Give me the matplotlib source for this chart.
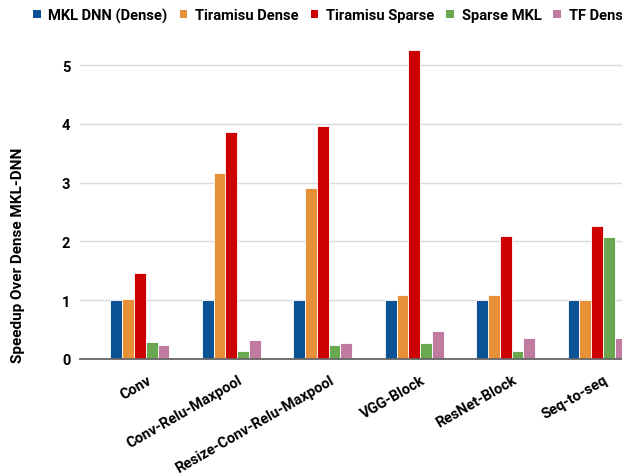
import numpy as np
import matplotlib.pyplot as plt
from matplotlib.transforms import ScaledTranslation
from matplotlib.patches import Patch

plt.rcParams['font.family'] = ['Roboto', 'DejaVu Sans']
plt.rcParams['font.weight'] = 'bold'

# data
categories = ['Conv', 'Conv-Relu-Maxpool', 'Resize-Conv-Relu-Maxpool',
              'VGG-Block', 'ResNet-Block', 'Seq-to-seq']
series = ['MKL DNN (Dense)', 'Tiramisu Dense', 'Tiramisu Sparse', 'Sparse MKL', 'TF Dense']
mkl_dense = [1.0, 1.0, 1.0, 1.0, 1.0, 1.0]
tiramisu_dense = [1.02, 3.16, 2.90, 1.09, 1.09, 1.00]
tiramisu_sparse = [1.47, 3.86, 3.97, 5.25, 2.10, 2.26]
sparse_mkl = [0.29, 0.14, 0.24, 0.28, 0.13, 2.07]
tf_dense = [0.24, 0.33, 0.28, 0.47, 0.36, 0.35]
colors = ['#0b5394', '#e69138', '#cc0000', '#6aa84f', '#c27ba0']

values = [mkl_dense, tiramisu_dense, tiramisu_sparse, sparse_mkl, tf_dense]

fig = plt.figure(figsize=(6.22, 4.77), dpi=100)
# axes runs past the right edge, like the cropped original
ax = fig.add_axes([80/622, 117/477, 577/622, 317.5/477])

x = np.arange(len(categories))
w = 0.129
for i, (vals, c) in enumerate(zip(values, colors)):
    ax.bar(x + (i - 2) * w, vals, w, color=c, edgecolor='white', linewidth=0.6, zorder=3)

ax.set_xlim(-0.656, 5.656)
ax.set_ylim(0, 5.4)
ax.set_yticks([0, 1, 2, 3, 4, 5])
ax.yaxis.grid(True, color='#dadada', linewidth=1, zorder=0)
for s in ['top', 'right', 'left']:
    ax.spines[s].set_visible(False)
ax.spines['bottom'].set_color('#666666')
ax.spines['bottom'].set_linewidth(1.3)
ax.spines['bottom'].set_zorder(4)
ax.tick_params(axis='both', length=0)
ax.tick_params(axis='y', pad=7, labelsize=10.5)
ax.tick_params(axis='x', pad=0, labelsize=10.5)
ax.set_xticks(x)
ax.set_xticklabels(categories, rotation=30, ha='right', va='baseline', rotation_mode='anchor')
offset = ScaledTranslation(12/100, -23/100, fig.dpi_scale_trans)
for lab in ax.get_xticklabels():
    lab.set_transform(lab.get_transform() + offset)
    lab.set_fontweight('bold')
for lab in ax.get_yticklabels():
    lab.set_fontweight('bold')

ax.set_ylabel('Speedup Over Dense MKL-DNN', fontsize=11, fontweight='bold')
ax.yaxis.set_label_coords(-55/577, 105/317.5)

handles = [Patch(facecolor=c, edgecolor='none') for c in colors]
fig.legend(handles, series, loc='center left', bbox_to_anchor=(33/622, 1 - 16/477),
           ncol=5, frameon=False, handlelength=0.54, handleheight=0.54,
           handletextpad=0.5, columnspacing=0.82, borderpad=0, borderaxespad=0,
           prop={'weight': 'bold', 'size': 10.6})

fig.savefig('out.png', dpi=100)
